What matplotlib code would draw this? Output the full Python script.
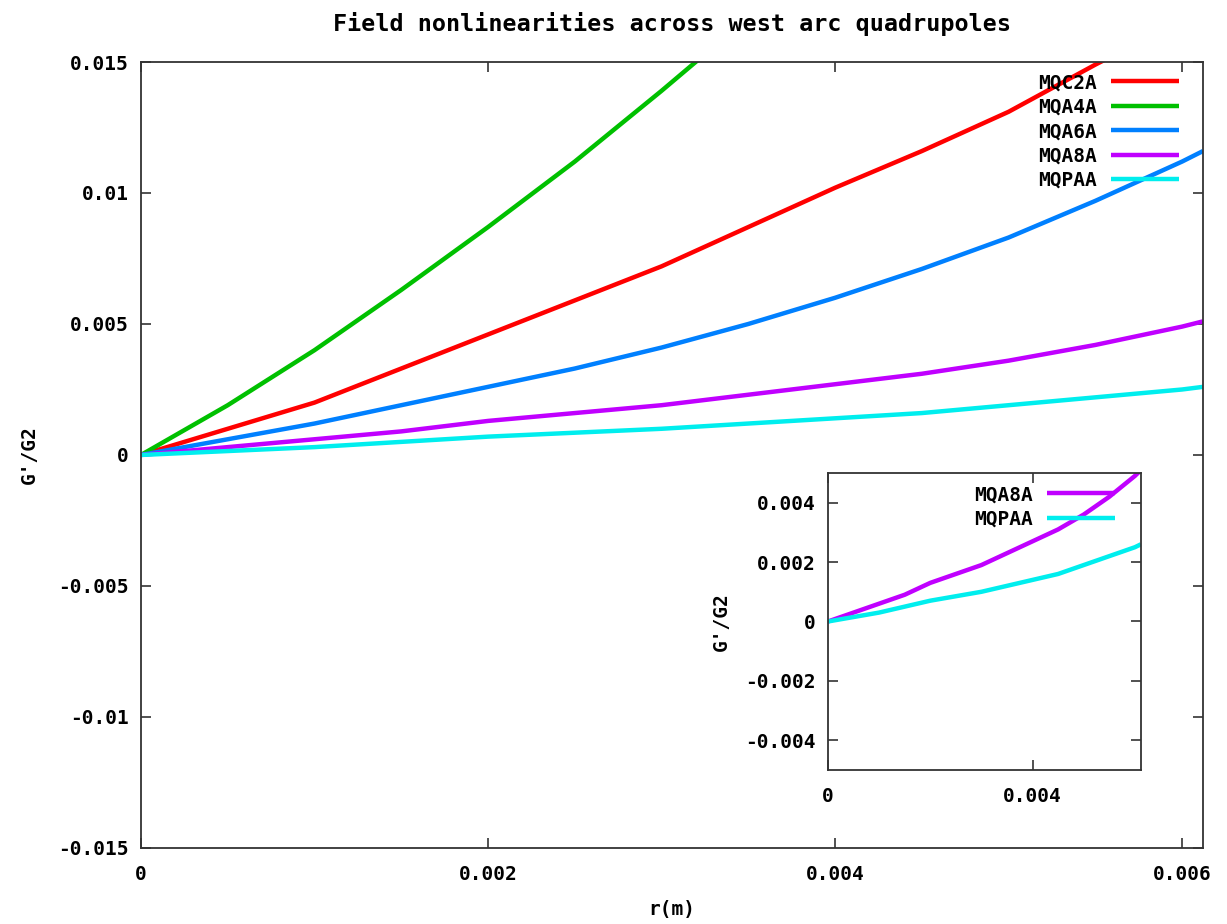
import matplotlib
matplotlib.use("Agg")
import matplotlib.pyplot as plt

# radius samples (m) and G'/G2
r = [0, 0.0005, 0.001, 0.0015, 0.002, 0.0025, 0.003, 0.0035,
     0.004, 0.0045, 0.005, 0.0055, 0.006, 0.00612]
mqc2a = [0, 0.0010, 0.0020, 0.0033, 0.0046, 0.0059, 0.0072, 0.0087,
         0.0102, 0.0116, 0.0131, 0.0149, 0.0166, 0.0170]
mqa4a = [0, 0.0019, 0.0040, 0.0063, 0.0087, 0.0112, 0.0139, 0.0167,
         0.0196, 0.0228, 0.0262, 0.0298, 0.0335, 0.0344]
mqa6a = [0, 0.0006, 0.0012, 0.0019, 0.0026, 0.0033, 0.0041, 0.0050,
         0.0060, 0.0071, 0.0083, 0.0097, 0.0112, 0.0116]
mqa8a = [0, 0.0003, 0.0006, 0.0009, 0.0013, 0.0016, 0.0019, 0.0023,
         0.0027, 0.0031, 0.0036, 0.0042, 0.0049, 0.0051]
mqpaa = [0, 0.00015, 0.0003, 0.0005, 0.0007, 0.00085, 0.0010, 0.0012,
         0.0014, 0.0016, 0.0019, 0.0022, 0.0025, 0.0026]

names = ["MQC2A", "MQA4A", "MQA6A", "MQA8A", "MQPAA"]
colors = ["#ff0000", "#00c000", "#0080ff", "#c000ff", "#00eeee"]

main_xticks = [0, 0.002, 0.004, 0.006]
main_xlabels = ["0", "0.002", "0.004", "0.006"]
main_yticks = [-0.015, -0.01, -0.005, 0, 0.005, 0.01, 0.015]
main_ylabels = ["-0.015", "-0.01", "-0.005", "0", "0.005", "0.01", "0.015"]
ins_xticks = [0, 0.004]
ins_xlabels = ["0", "0.004"]
ins_yticks = [-0.004, -0.002, 0, 0.002, 0.004]
ins_ylabels = ["-0.004", "-0.002", "0", "0.002", "0.004"]

plt.rcParams["font.family"] = "DejaVu Sans Mono"
plt.rcParams["font.weight"] = "bold"
plt.rcParams["axes.titleweight"] = "bold"
plt.rcParams["axes.labelweight"] = "bold"
plt.rcParams["font.size"] = 14
FRAME = "#333333"


def style_axes(ax):
    for s in ax.spines.values():
        s.set_color(FRAME)
        s.set_linewidth(1.3)
    ax.tick_params(direction="in", length=7, width=1.2, color=FRAME,
                   top=True, right=True, pad=12)


fig = plt.figure(figsize=(12.27, 9.24), dpi=100)
ax = fig.add_axes([0.1149, 0.0823, 0.8655, 0.8506])

series = [mqc2a, mqa4a, mqa6a, mqa8a, mqpaa]
for name, vals, c in zip(names, series, colors):
    ax.plot(r, vals, color=c, lw=3.2, label=name, solid_capstyle="butt")

ax.set_xlim(0, 0.00612)
ax.set_ylim(-0.015, 0.015)
ax.set_xticks(main_xticks)
ax.set_xticklabels(main_xlabels)
ax.set_yticks(main_yticks)
ax.set_yticklabels(main_ylabels)
style_axes(ax)
ax.tick_params(axis="y", pad=9)
ax.set_xlabel("r(m)", labelpad=12)
ax.set_ylabel("G'/G2", labelpad=14)
ax.set_title("Field nonlinearities across west arc quadrupoles", pad=22)
ax.legend(loc="upper right", frameon=False, markerfirst=False,
          handlelength=3.5, labelspacing=0.28, borderaxespad=0.3,
          handletextpad=0.7, bbox_to_anchor=(0.99, 1.003))

# inset with the two weakest magnets
axi = fig.add_axes([0.6748, 0.1667, 0.2551, 0.3214])
for name, vals, c in zip(names[3:], series[3:], colors[3:]):
    axi.plot(r, vals, color=c, lw=3.2, label=name, solid_capstyle="butt")
axi.set_xlim(0, 0.00612)
axi.set_ylim(-0.005, 0.005)
axi.set_xticks(ins_xticks)
axi.set_xticklabels(ins_xlabels)
axi.set_yticks(ins_yticks)
axi.set_yticklabels(ins_ylabels)
style_axes(axi)
axi.tick_params(axis="y", pad=9)
axi.set_ylabel("G'/G2", labelpad=10)
axi.legend(loc="upper right", frameon=False, markerfirst=False,
           handlelength=3.5, labelspacing=0.28, borderaxespad=0.3,
           handletextpad=0.7, bbox_to_anchor=(0.96, 1.005))

fig.savefig("out.png", dpi=100)
